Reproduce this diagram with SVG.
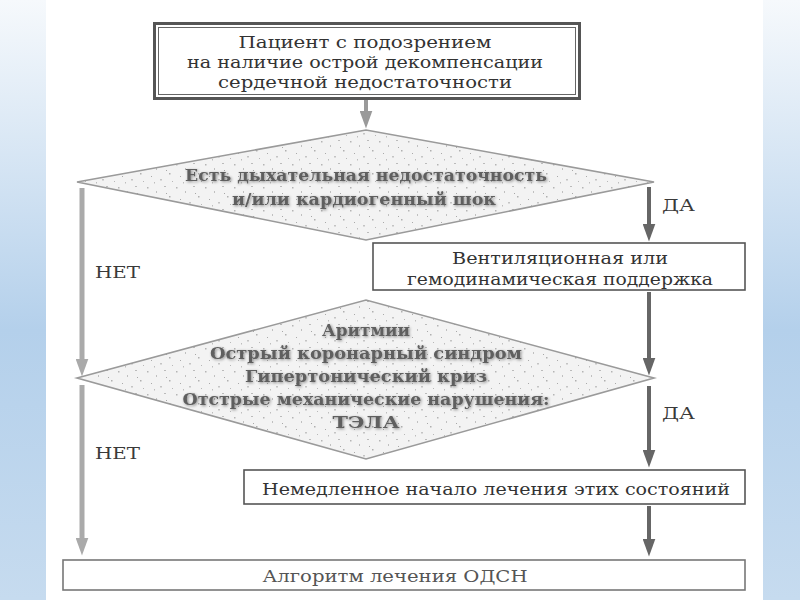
<svg xmlns="http://www.w3.org/2000/svg" width="800" height="600" viewBox="0 0 800 600">
<defs>
<linearGradient id="bg" x1="0" y1="0" x2="0" y2="1">
<stop offset="0" stop-color="#f6f9fc"/>
<stop offset="0.55" stop-color="#b4d0eb"/>
<stop offset="1" stop-color="#c6dbef"/>
</linearGradient>
<pattern id="speck" width="29" height="23" patternUnits="userSpaceOnUse">
<rect width="29" height="23" fill="#f3f3f3"/>
<rect x="2" y="3" width="1.5" height="1.5" fill="#b5b5b5"/>
<rect x="11" y="7" width="1" height="2" fill="#c0c0c0"/>
<rect x="19" y="2" width="2" height="1" fill="#bbbbbb"/>
<rect x="24" y="12" width="1.5" height="1.5" fill="#b0b0b0"/>
<rect x="6" y="15" width="1" height="1" fill="#aaaaaa"/>
<rect x="15" y="18" width="2" height="1.5" fill="#c4c4c4"/>
<rect x="27" y="20" width="1" height="1" fill="#b8b8b8"/>
<rect x="9" y="21" width="1" height="1.5" fill="#bdbdbd"/>
<rect x="21" y="9" width="1" height="1" fill="#a8a8a8"/>
</pattern>
<filter id="shadow" x="-10%" y="-30%" width="120%" height="160%">
<feGaussianBlur in="SourceAlpha" stdDeviation="1.6" result="b"/>
<feOffset in="b" dx="0.5" dy="1" result="o"/>
<feComponentTransfer in="o" result="s"><feFuncA type="linear" slope="0.45"/></feComponentTransfer>
<feMerge><feMergeNode in="s"/><feMergeNode in="SourceGraphic"/></feMerge>
</filter>
<marker id="ahL" viewBox="0 0 18 13" refX="0.5" refY="6.5" markerWidth="18" markerHeight="13" markerUnits="userSpaceOnUse" orient="auto">
<path d="M0,0 L18,6.5 L0,13 Z" fill="#aaaaaa"/>
</marker>
<marker id="ahD" viewBox="0 0 18 13" refX="0.5" refY="6.5" markerWidth="18" markerHeight="13" markerUnits="userSpaceOnUse" orient="auto">
<path d="M0,0 L18,6.5 L0,13 Z" fill="#666666"/>
</marker>
<marker id="ahT" viewBox="0 0 18 13" refX="0.5" refY="6.5" markerWidth="18" markerHeight="13" markerUnits="userSpaceOnUse" orient="auto">
<path d="M0,0 L18,6.5 L0,13 Z" fill="#9a9a9a"/>
</marker>
</defs>
<style>
.t{font-family:"DejaVu Serif","Liberation Serif",serif;font-size:17px;fill:#333;text-anchor:middle}
.d{font-family:"DejaVu Serif","Liberation Serif",serif;font-size:17px;font-weight:bold;fill:#5e5e5e;text-anchor:middle}
.lbl{font-family:"DejaVu Serif","Liberation Serif",serif;font-size:17px;fill:#3a3a3a}
.box{fill:#ffffff;stroke:#555;stroke-width:1.6}
.dia{fill:url(#speck);stroke:#9a9a9a;stroke-width:1.6}
.no{stroke:#aaaaaa;stroke-width:5;fill:none;marker-end:url(#ahL)}
.yes{stroke:#666666;stroke-width:4;fill:none;marker-end:url(#ahD)}
.top{stroke:#9a9a9a;stroke-width:4;fill:none;marker-end:url(#ahT)}
</style>
<rect x="0" y="0" width="800" height="600" fill="url(#bg)"/>
<rect x="46" y="0" width="717" height="600" fill="#ffffff"/>

<g id="connectors">
<line class="top" x1="366" y1="100" x2="366" y2="111"/>
<line class="no" x1="82" y1="188" x2="82" y2="359"/>
<line class="no" x1="82" y1="385" x2="82" y2="538"/>
<line class="yes" x1="649" y1="187" x2="649" y2="224"/>
<line class="yes" x1="649" y1="292" x2="649" y2="358"/>
<line class="yes" x1="649" y1="386" x2="649" y2="450"/>
<line class="yes" x1="649" y1="506" x2="649" y2="539"/>
<text class="lbl" x="95" y="278" textLength="45" lengthAdjust="spacingAndGlyphs">НЕТ</text>
<text class="lbl" x="95" y="459" textLength="45" lengthAdjust="spacingAndGlyphs">НЕТ</text>
<text class="lbl" x="662" y="211" textLength="33" lengthAdjust="spacingAndGlyphs">ДА</text>
<text class="lbl" x="662" y="419" textLength="33" lengthAdjust="spacingAndGlyphs">ДА</text>
</g>

<g id="start">
<rect x="154.5" y="23.5" width="425" height="75" fill="#fff" stroke="#555" stroke-width="3"/>
<rect x="158.5" y="27.5" width="417" height="67" fill="none" stroke="#666" stroke-width="1"/>
<text class="t" x="365" y="48" textLength="253" lengthAdjust="spacingAndGlyphs">Пациент с подозрением</text>
<text class="t" x="365" y="68" textLength="356" lengthAdjust="spacingAndGlyphs">на наличие острой декомпенсации</text>
<text class="t" x="365" y="88" textLength="294" lengthAdjust="spacingAndGlyphs">сердечной недостаточности</text>
</g>

<g id="decision1">
<polygon class="dia" points="77,182 366,130 654,182 366,240"/>
<g filter="url(#shadow)">
<text class="d" x="366" y="181" textLength="362" lengthAdjust="spacingAndGlyphs">Есть дыхательная недостаточность</text>
<text class="d" x="364" y="205" textLength="264" lengthAdjust="spacingAndGlyphs">и/или кардиогенный шок</text>
</g>
</g>

<g id="support">
<rect class="box" x="373" y="243" width="372" height="47"/>
<text class="t" x="560" y="264" textLength="216" lengthAdjust="spacingAndGlyphs">Вентиляционная или</text>
<text class="t" x="560" y="285" textLength="306" lengthAdjust="spacingAndGlyphs">гемодинамическая поддержка</text>
</g>

<g id="decision2">
<polygon class="dia" points="77,378 366,300 654,378 366,459"/>
<g filter="url(#shadow)">
<text class="d" x="366" y="336" textLength="88" lengthAdjust="spacingAndGlyphs">Аритмии</text>
<text class="d" x="366" y="359" textLength="312" lengthAdjust="spacingAndGlyphs">Острый коронарный синдром</text>
<text class="d" x="366" y="382" textLength="242" lengthAdjust="spacingAndGlyphs">Гипертонический криз</text>
<text class="d" x="366" y="405" textLength="367" lengthAdjust="spacingAndGlyphs">Отстрые механические нарушения:</text>
<text class="d" x="366" y="428" textLength="67" lengthAdjust="spacingAndGlyphs">ТЭЛА</text>
</g>
</g>

<g id="treat-now">
<rect class="box" x="244" y="470" width="501" height="34"/>
<text class="t" x="496" y="495" textLength="468" lengthAdjust="spacingAndGlyphs">Немедленное начало лечения этих состояний</text>
</g>

<g id="algorithm">
<rect class="box" x="63" y="560" width="682" height="30" style="stroke:#777"/>
<text class="t" x="395" y="582" textLength="265" lengthAdjust="spacingAndGlyphs" style="fill:#555">Алгоритм лечения ОДСН</text>
</g>
</svg>
